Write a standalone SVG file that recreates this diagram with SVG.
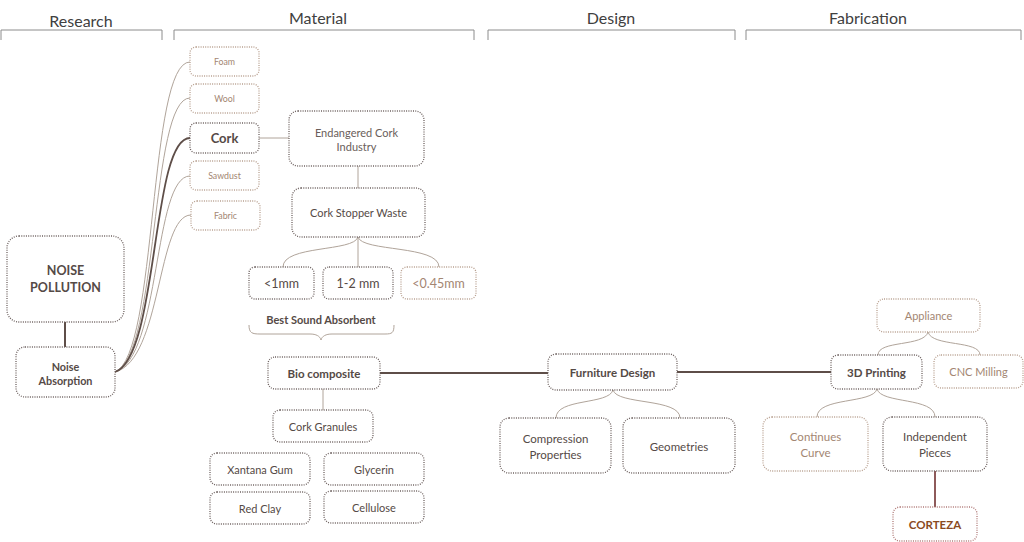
<svg xmlns="http://www.w3.org/2000/svg" width="1024" height="542" viewBox="0 0 1024 542">
<style>
text{font-family:Lato,"Open Sans","Liberation Sans",sans-serif;text-anchor:middle;dominant-baseline:central}
.hd{font-size:16px;fill:#404040}
.bar{fill:none;stroke:#8c8c8c;stroke-width:1}
.nd rect{fill:#fff;stroke:#6e6260;stroke-width:1.3;stroke-dasharray:1 1.3}
.lt rect{stroke:#b8a090}
.t{font-size:11px;fill:#554a46}
.tl{font-size:11px;fill:#a38672}
.ts{font-size:8.8px;fill:#a38672}
.b{font-weight:bold}
.thin{fill:none;stroke:#b0a49a;stroke-width:1}
.thick{fill:none;stroke:#5e4e48;stroke-width:2}
</style>
<rect width="1024" height="542" fill="#fff"/>
<g id="headers">
<text class="hd" x="81" y="20">Research</text>
<path class="bar" d="M1,40 V30 H162 V40"/>
<text class="hd" x="318" y="17">Material</text>
<path class="bar" d="M174,40 V30 H474 V40"/>
<text class="hd" x="611" y="17">Design</text>
<path class="bar" d="M488,40 V30 H735 V40"/>
<text class="hd" x="868" y="17">Fabrication</text>
<path class="bar" d="M746,40 V30 H1021 V40"/>
</g>
<g id="connectors">
<path class="thick" d="M65,322 V347"/>
<path class="thin" d="M115,372 C158,355 148,62 190,62"/>
<path class="thin" d="M115,372 C159,356 150,98 190,98"/>
<path class="thin" d="M115,372 C161,358 153,176 190,176"/>
<path class="thin" d="M115,372 C162,360 157,215 191,215"/>
<path class="thick" style="stroke-width:1.8" d="M115,372 C159,357 151,138 190,138"/>
<path class="thin" d="M259,138 H289"/>
<path class="thin" d="M358,166 V188"/>
<path class="thin" d="M358,237 V267"/>
<path class="thin" d="M358,237 C354,252 283,245 283,267"/>
<path class="thin" d="M358,237 C362,252 439,245 439,267"/>
<path class="thin" d="M249,325 C249,333 252,334 260,334 H310 C316,334 320,336 321,340 C322,336 326,334 332,334 H385 C392,334 394,333 394,325"/>
<path class="thick" d="M380,373 H548"/>
<path class="thick" d="M677,372 H831"/>
<path class="thin" d="M323,389 V410"/>
<path class="thin" d="M613,390 C609,405 556,398 556,418"/>
<path class="thin" d="M613,390 C617,405 680,398 680,418"/>
<path class="thin" d="M877,389 C873,404 817,397 817,417"/>
<path class="thin" d="M877,389 C881,404 935,397 935,417"/>
<path class="thin" d="M928,332 C924,347 878,340 878,355"/>
<path class="thin" d="M928,332 C932,347 980,340 980,355"/>
<path fill="none" stroke="#8e5a5a" stroke-width="2" d="M935,471 V507"/>
</g>
<g id="n-noise-pollution" class="nd"><rect x="7" y="236" width="117" height="86" rx="12"/><text class="t b" style="font-size:12.5px" x="65.5" y="270">NOISE</text><text class="t b" style="font-size:12.5px" x="65.5" y="287">POLLUTION</text></g>
<g id="n-noise-absorption" class="nd"><rect x="16" y="347" width="99" height="50" rx="9"/><text class="t b" style="font-size:10.8px" x="65.5" y="366">Noise</text><text class="t b" style="font-size:10.8px" x="65.5" y="380">Absorption</text></g>
<g id="n-foam" class="nd lt"><rect x="190" y="47" width="69" height="29" rx="6"/><text class="ts" x="224.5" y="61.5">Foam</text></g>
<g id="n-wool" class="nd lt"><rect x="190" y="84" width="69" height="29" rx="6"/><text class="ts" x="224.5" y="98.5">Wool</text></g>
<g id="n-cork" class="nd"><rect x="190" y="123" width="69" height="30" rx="6"/><text class="t b" style="font-size:13px" x="224.5" y="138">Cork</text></g>
<g id="n-sawdust" class="nd lt"><rect x="190" y="161" width="69" height="29" rx="6"/><text class="ts" x="224.5" y="175.5">Sawdust</text></g>
<g id="n-fabric" class="nd lt"><rect x="191" y="201" width="69" height="29" rx="6"/><text class="ts" x="225.5" y="215.5">Fabric</text></g>
<g id="n-endangered" class="nd"><rect x="289" y="111" width="135" height="55" rx="9"/><text class="t" style="fill:#6a5e5a" x="356.5" y="132">Endangered Cork</text><text class="t" style="fill:#6a5e5a" x="356.5" y="146">Industry</text></g>
<g id="n-stopper" class="nd"><rect x="292" y="188" width="133" height="49" rx="9"/><text class="t" x="358.5" y="212.5">Cork Stopper Waste</text></g>
<g id="n-1mm" class="nd"><rect x="249" y="267" width="65" height="32" rx="6"/><text class="t" style="font-size:12.5px" x="281.5" y="283">&lt;1mm</text></g>
<g id="n-12mm" class="nd"><rect x="323" y="267" width="70" height="32" rx="6"/><text class="t" style="font-size:12.5px" x="358" y="283">1-2 mm</text></g>
<g id="n-045mm" class="nd lt"><rect x="401" y="267" width="75" height="32" rx="6"/><text class="tl" style="font-size:12.5px" x="438.5" y="283">&lt;0.45mm</text></g>
<g id="n-best"><text class="t b" style="font-size:11px" x="321" y="319">Best Sound Absorbent</text></g>
<g id="n-bio" class="nd"><rect x="268" y="357" width="112" height="32" rx="7"/><text class="t b" style="font-size:11.5px" x="324" y="373">Bio composite</text></g>
<g id="n-granules" class="nd"><rect x="273" y="410" width="100" height="32" rx="7"/><text class="t" x="323" y="426">Cork Granules</text></g>
<g id="n-xantana" class="nd"><rect x="210" y="453" width="100" height="32" rx="7"/><text class="t" x="260" y="469">Xantana Gum</text></g>
<g id="n-glycerin" class="nd"><rect x="324" y="453" width="100" height="32" rx="7"/><text class="t" x="374" y="469">Glycerin</text></g>
<g id="n-redclay" class="nd"><rect x="210" y="492" width="100" height="32" rx="7"/><text class="t" x="260" y="508.5">Red Clay</text></g>
<g id="n-cellulose" class="nd"><rect x="324" y="491" width="100" height="32" rx="7"/><text class="t" x="374" y="507">Cellulose</text></g>
<g id="n-furniture" class="nd"><rect x="548" y="354" width="129" height="36" rx="8"/><text class="t b" style="font-size:11.5px" x="612.5" y="372">Furniture Design</text></g>
<g id="n-compression" class="nd"><rect x="500" y="418" width="111" height="55" rx="9"/><text class="t" style="font-size:11.5px" x="555.5" y="438">Compression</text><text class="t" style="font-size:11.5px" x="555.5" y="454">Properties</text></g>
<g id="n-geometries" class="nd"><rect x="623" y="418" width="112" height="55" rx="9"/><text class="t" style="font-size:11.5px" x="679" y="446">Geometries</text></g>
<g id="n-3dprinting" class="nd"><rect x="831" y="355" width="91" height="34" rx="7"/><text class="t b" style="font-size:11.5px" x="876.5" y="372">3D Printing</text></g>
<g id="n-appliance" class="nd lt"><rect x="877" y="299" width="103" height="33" rx="7"/><text class="tl" x="928.5" y="315.5">Appliance</text></g>
<g id="n-cnc" class="nd lt"><rect x="934" y="355" width="89" height="33" rx="7"/><text class="tl" x="978.5" y="371.5">CNC Milling</text></g>
<g id="n-continues" class="nd lt"><rect x="763" y="417" width="105" height="54" rx="9"/><text class="tl" style="font-size:11.5px" x="815.5" y="436">Continues</text><text class="tl" style="font-size:11.5px" x="815.5" y="452">Curve</text></g>
<g id="n-independent" class="nd"><rect x="883" y="417" width="104" height="54" rx="9"/><text class="t" style="font-size:11.5px" x="935" y="436">Independent</text><text class="t" style="font-size:11.5px" x="935" y="452">Pieces</text></g>
<g id="n-corteza" class="nd"><rect x="893" y="507" width="84" height="34" rx="7" style="stroke:#b07a78"/><text class="b" style="font-size:11.5px;fill:#8a4a1e" x="935" y="524">CORTEZA</text></g>
</svg>
